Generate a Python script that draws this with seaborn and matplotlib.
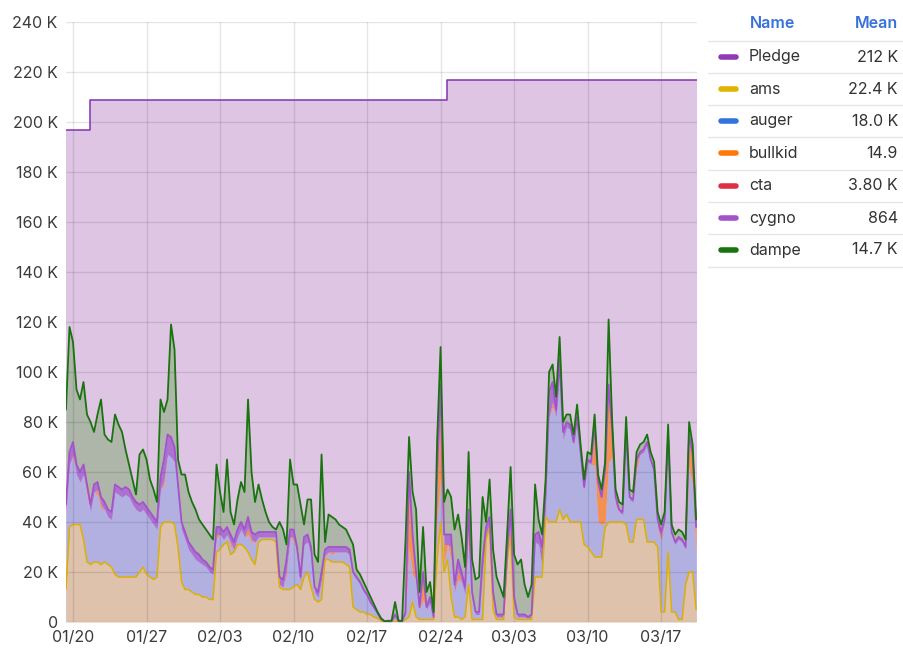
import numpy as np
import pandas as pd
import seaborn as sns
import matplotlib.pyplot as plt
from matplotlib.lines import Line2D

# 8-hourly samples, 01/19 08:00 -> 03/20 08:00, values in thousands
start = "2025-01-19 08:00"
n_points = 181

# top of the yellow (ams) layer
ams_level = [
    13, 38, 39, 39, 39, 33, 24, 23, 24, 24, 23, 24, 23, 22, 19,
    18, 18, 18, 18, 18, 18, 20, 22, 19, 18, 17, 18, 38, 40, 40,
    40, 39, 30, 16, 13, 13, 12, 11, 11, 10, 10, 9, 9, 28, 29,
    31, 32, 27, 28, 31, 31, 30, 28, 25, 23, 32, 33, 33, 33, 33,
    32, 14, 13, 13, 13, 14, 15, 13, 18, 20, 14, 9, 8, 9, 25,
    25, 24, 24, 24, 24, 23, 22, 6, 5, 4, 4, 3, 3, 2, 1.5,
    0.5, 0, 0, 0, 0.5, 0, 0, 1, 2, 8, 2, 1, 1, 1, 1,
    1, 25, 40, 20, 25, 10, 2, 2, 1, 2, 15, 1, 1, 1, 1,
    33, 38, 5, 1, 1, 1, 24, 35, 2, 1, 1, 1, 1, 1, 18,
    18, 18, 42, 40, 40, 40, 45, 41, 43, 40, 40, 40, 40, 31, 30,
    28, 26, 26, 26, 38, 40, 40, 40, 40, 40, 39, 32, 32, 41, 41,
    41, 32, 32, 32, 30, 4, 4, 28, 4, 4, 1, 1, 15, 20, 20,
    5,
]

# top of the purple (cygno) layer
cygno_level = [
    47, 68, 72, 63, 60, 63, 55, 47, 55, 56, 50, 48, 45, 44, 55,
    54, 53, 54, 53, 50, 48, 47, 48, 46, 44, 42, 40, 58, 65, 75,
    74, 70, 55, 40, 36, 32, 30, 28, 27, 25, 24, 22, 21, 38, 38,
    36, 38, 35, 32, 37, 40, 37, 42, 36, 35, 36, 36, 36, 36, 36,
    36, 18, 17, 25, 37, 37, 30, 18, 34, 35, 30, 14, 12, 20, 29,
    30, 30, 30, 30, 30, 30, 29, 20, 18, 16, 13, 11, 8, 6, 3.5,
    1.2, 0.2, 0.2, 0.2, 3, 0.2, 0.2, 4, 60, 35, 20, 6, 20, 6, 10,
    2, 60, 95, 35, 35, 35, 15, 25, 20, 14, 45, 12, 4, 4, 25,
    38, 42, 12, 3, 3, 3, 28, 45, 10, 3, 3, 3, 2, 3, 35,
    36, 30, 52, 92, 96, 85, 105, 76, 80, 79, 72, 82, 68, 54, 65,
    64, 79, 56, 50, 61, 95, 77, 50, 45, 44, 76, 50, 49, 65, 68,
    69, 72, 65, 61, 41, 36, 41, 74, 36, 32, 34, 33, 30, 75, 67,
    38,
]

# top of the whole stack (green dampe line)
dampe_level = [
    85, 118, 112, 93, 89, 96, 83, 80, 76, 83, 89, 75, 73, 72, 83,
    79, 76, 69, 63, 57, 51, 67, 69, 65, 57, 53, 48, 89, 84, 89,
    119, 109, 65, 59, 59, 52, 48, 45, 41, 39, 37, 35, 33, 63, 52,
    44, 65, 44, 39, 49, 56, 52, 89, 60, 48, 55, 49, 44, 40, 38,
    37, 40, 37, 31, 65, 55, 55, 47, 39, 49, 49, 27, 24, 67, 32,
    43, 42, 41, 39, 38, 37, 34, 31, 21, 19, 16, 13, 10, 7, 4,
    1.5, 0.3, 0.5, 0.5, 8, 0.5, 0.5, 33, 74, 52, 45, 12, 38, 12, 16,
    4, 72, 110, 48, 53, 50, 37, 43, 34, 22, 68, 25, 17, 18, 50,
    40, 57, 29, 18, 14, 10, 35, 62, 27, 23, 25, 15, 10, 15, 55,
    41, 35, 57, 100, 103, 90, 114, 80, 83, 83, 75, 87, 71, 57, 68,
    67, 83, 59, 53, 64, 121, 81, 53, 48, 47, 82, 53, 52, 68, 71,
    72, 75, 68, 64, 44, 39, 44, 79, 39, 35, 37, 36, 33, 80, 71,
    41,
]

cygno = [
    3, 5, 5, 4, 4, 4, 3, 3, 3, 3, 3, 3, 3, 3, 3,
    3, 3, 3, 3, 3, 3, 3, 3, 3, 3, 3, 3, 5, 8, 8,
    8, 6, 4, 3, 3, 3, 3, 3, 3, 2, 2, 2, 2, 3, 3,
    3, 3, 3, 3, 3, 3, 3, 4, 3, 3, 2, 2, 2, 2, 2,
    2, 3, 3, 4, 3, 3, 3, 2, 3, 3, 3, 2, 2, 3, 2,
    2, 2, 2, 2, 2, 2, 2, 1, 1, 1, 1, 1, 1, 1, 0.5,
    0.3, 0.1, 0.1, 0.1, 1, 0.1, 0.1, 1, 4, 4, 3, 1, 3, 1, 2,
    0.5, 5, 6, 4, 4, 5, 3, 4, 4, 3, 4, 3, 1, 1, 4,
    3, 3, 3, 1, 1, 1, 4, 4, 3, 1, 1, 1, 0.5, 1, 3,
    5, 8, 6, 10, 8, 3, 6, 3, 2, 2, 1, 1, 1, 1, 1,
    1, 1, 1, 1, 1, 1, 1, 1, 1, 1, 1, 1, 1, 1, 1,
    1, 1, 1, 1, 1, 1, 1, 1, 1, 1, 1, 1, 1, 1, 1,
    1,
]

bullkid = [
    0, 0, 1, 0, 0, 0, 1.5, 0, 0, 2, 1.5, 0, 0, 0, 0,
    0, 0, 0, 0, 0, 0, 0, 0, 0, 0, 0, 0, 0, 2, 0,
    0, 0, 0, 0, 0, 0, 0, 0, 0, 0, 0, 0, 0, 1.5, 0,
    0, 0, 1.5, 0, 0, 0, 0, 2, 1, 0, 0, 0, 0, 0, 0,
    0, 0, 0, 1, 0, 1.5, 0, 1, 0, 0, 0, 0, 0, 0, 1,
    0, 1, 0, 0, 0, 0, 0, 0, 0, 0, 0, 0, 0, 0, 0,
    0, 0, 0, 0, 0, 0, 0, 0, 25, 12, 0, 0, 8, 0, 0,
    0, 15, 30, 8, 0, 5, 0, 4, 0, 0, 6, 0, 0, 0, 0,
    1, 0, 0, 0, 0, 0, 0, 3, 0, 0, 0, 0, 0, 0, 0,
    0, 0, 0, 0, 2, 0, 0, 0, 0, 0, 0, 0, 0, 0, 0,
    0, 15, 15, 10, 20, 30, 10, 0, 0, 0, 4, 0, 0, 3, 0,
    0, 0, 0, 0, 0, 0, 0, 5, 0, 0, 0, 0, 0, 12, 12,
    10,
]

cta = [
    1, 0, 0, 0, 0, 0, 0, 0, 0, 0, 0, 0, 0, 0, 0,
    0, 0, 0, 0, 0, 0, 0, 0, 0, 0, 0, 0, 0, 0, 0,
    0, 0, 0, 0, 0, 0, 0, 0, 0, 0, 0, 0, 0, 0, 0,
    0, 0, 0, 0, 0, 0, 0, 1, 0, 0, 0, 0, 0, 0, 0,
    0, 0, 0, 1, 0, 0, 0, 0, 0, 0, 0, 0, 0, 0, 0,
    0, 0, 0, 0, 0, 0, 0, 0, 0, 0, 0, 0, 0, 0, 0,
    0, 0, 0, 0, 0, 0, 0, 0, 1, 0, 0, 0, 0, 0, 0,
    0, 0, 1, 0, 0, 0, 0, 0, 0, 0, 1, 0, 0, 0, 0,
    0, 0, 0, 0, 0, 0, 0, 0, 0, 0, 0, 0, 0, 0, 0,
    0, 0, 0, 0, 0, 0, 0, 0, 0, 0, 0, 0, 0, 0, 0,
    0, 0, 0, 0, 0, 0, 0, 2, 0, 0, 0, 0, 0, 0, 0,
    0, 0, 0, 0, 2, 2, 0, 1, 0, 0, 0, 0, 0, 0, 0,
    0,
]

pledge_dates = ["2025-01-19 08:00", "2025-01-21 15:00", "2025-02-24 15:00", "2025-03-20 10:00"]
pledge_values = [197, 209, 217, 217]

legend_names = ["Pledge", "ams", "auger", "bullkid", "cta", "cygno", "dampe"]
legend_means = ["212 K", "22.4 K", "18.0 K", "14.9", "3.80 K", "864", "14.7 K"]
legend_colors = ["#8f3bb8", "#e0b400", "#3274d9", "#ff780a", "#e02f44", "#a352cc", "#19730e"]

x_ticks = ["2025-01-20", "2025-01-27", "2025-02-03", "2025-02-10", "2025-02-17",
           "2025-02-24", "2025-03-03", "2025-03-10", "2025-03-17"]
y_ticks = [0, 20, 40, 60, 80, 100, 120, 140, 160, 180, 200, 220, 240]

sns.set_theme(style="white")
plt.rcParams["font.family"] = ["Inter", "DejaVu Sans"]

t = pd.date_range(start, periods=n_points, freq="8h")
ams = np.array(ams_level, dtype=float)
top_cygno = np.array(cygno_level, dtype=float)
top = np.array(dampe_level, dtype=float)
bullkid = np.array(bullkid, dtype=float)
cta = np.array(cta, dtype=float)
cygno = np.array(cygno, dtype=float)
auger = np.clip(top_cygno - cygno - cta - bullkid - ams, 0, None)
dampe = top - top_cygno

layers = [ams, auger, bullkid, cta, cygno, dampe]
fill_colors = ["#dfc2ac", "#b1b0e1", "#f49050", "#e0707e", "#ab72cf", "#adb6a9"]
tops = np.cumsum(layers, axis=0)

fig = plt.figure(figsize=(9.04, 6.52), dpi=100)
ax = fig.add_axes([66 / 904, 30 / 652, 631 / 904, 600 / 652])

# pledge, filled down to zero
pt = pd.to_datetime(pledge_dates)
ax.fill_between(pt, pledge_values, step="post", color="#dfc5e4", lw=0, zorder=0.5)
sns.lineplot(x=pt, y=pledge_values, drawstyle="steps-post", color="#8432b0", lw=1.1, ax=ax, zorder=3)

# stacked usage
bottom = np.zeros(n_points)
for layer, fc in zip(tops, fill_colors):
    ax.fill_between(t, bottom, layer, color=fc, lw=0, zorder=1)
    bottom = layer

df = pd.DataFrame({"time": t, "ams": tops[0], "cygno": tops[4], "dampe": tops[5]})
for col, c, w in [("ams", "#dcb000", 1.1), ("cygno", "#a352cc", 1.3), ("dampe", "#19730e", 1.3)]:
    sns.lineplot(data=df, x="time", y=col, color=c, lw=w, ax=ax, zorder=3)

ax.set_xlim(t[0], t[-1] + pd.Timedelta(hours=2))
ax.set_ylim(0, 240)
ax.set_yticks(y_ticks)
ax.set_yticklabels(["0" if v == 0 else f"{v} K" for v in y_ticks])
xt = pd.to_datetime(x_ticks)
ax.set_xticks(xt)
ax.set_xticklabels([d.strftime("%m/%d") for d in xt])
ax.set_xlabel("")
ax.set_ylabel("")
ax.tick_params(axis="both", length=0, labelsize=11.5, colors="#3b3b3b")
ax.tick_params(axis="y", pad=6)
ax.tick_params(axis="x", pad=6)
ax.grid(True, color="black", alpha=0.1, lw=1)
ax.set_axisbelow("line")
for s in ax.spines.values():
    s.set_visible(False)

# table legend on the right
W, H = 904, 652
fx = lambda px: px / W
fy = lambda py: 1 - py / H
fig.text(fx(750), fy(24), "Name", color="#3871dc", fontsize=11.5, fontweight="semibold", va="center", ha="left")
fig.text(fx(898), fy(24), "Mean", color="#3871dc", fontsize=11.5, fontweight="semibold", va="center", ha="right")
sep_y = [41, 73, 105, 137, 170, 202, 234, 267]
for y in sep_y:
    fig.add_artist(Line2D([fx(708), fx(904)], [fy(y), fy(y)], color="#e6e6e6", lw=1))
row_y = [57, 89, 121, 153, 186, 218, 250]
for y, name, mean, c in zip(row_y, legend_names, legend_means, legend_colors):
    fig.add_artist(Line2D([fx(721), fx(736)], [fy(y), fy(y)], color=c, lw=4, solid_capstyle="round"))
    fig.text(fx(749), fy(y), name, color="#333333", fontsize=11.5, va="center", ha="left")
    fig.text(fx(898), fy(y), mean, color="#333333", fontsize=11.5, va="center", ha="right")

fig.savefig("out.png", dpi=100)
